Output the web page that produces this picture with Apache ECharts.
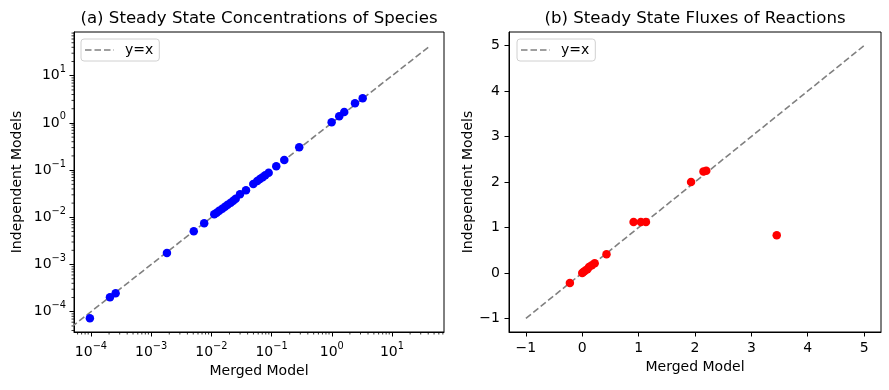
<!DOCTYPE html>
<html>
<head>
<meta charset="utf-8">
<script src="https://cdn.jsdelivr.net/npm/echarts@6/dist/echarts.min.js"></script>
<style>
  html, body { margin: 0; padding: 0; background: #fff; }
  #chart { width: 889px; height: 390px; }
</style>
</head>
<body>
<div id="chart"></div>
<script>
// (a) steady state concentrations of species
var speciesMerged = [9.6e-5, 2.07e-4, 2.57e-4, 1.83e-3, 5.1e-3, 7.6e-3,
  0.01117, 0.01225, 0.01352, 0.01517, 0.01683, 0.01866, 0.02094, 0.02312, 0.02536,
  0.0299, 0.0376, 0.0497, 0.0579, 0.0641, 0.0711, 0.0785, 0.0895,
  0.1197, 0.1626, 0.288, 0.995, 1.33, 1.61, 2.43, 3.26];
var speciesIndependent = [7.24e-5, 2.02e-4, 2.45e-4, 1.75e-3, 5.05e-3, 7.46e-3,
  0.01159, 0.0125, 0.0138, 0.0152, 0.0168, 0.0185, 0.0204, 0.0225, 0.0248,
  0.0307, 0.0373, 0.0508, 0.0587, 0.0647, 0.0703, 0.0776, 0.0881,
  0.1205, 0.1637, 0.304, 1.03, 1.38, 1.70, 2.60, 3.32];

// (b) steady state fluxes of reactions
var fluxMerged = [-0.22, 0, 0.02, 0.05, 0.09, 0.12, 0.17, 0.22, 0.43, 0.91, 1.04, 1.13, 1.93, 2.15, 2.2, 3.45];
var fluxIndependent = [-0.22, 0, 0.02, 0.05, 0.08, 0.13, 0.17, 0.21, 0.41, 1.12, 1.12, 1.12, 2.0, 2.23, 2.25, 0.83];

// y=x reference lines
var refLog = [3.6e-5, 40];
var refLin = [-1, 5];

// ticks
var linTicks = [-1, 0, 1, 2, 3, 4, 5];
var logMajor = [1e-4, 1e-3, 1e-2, 1e-1, 1, 10];
var logMinor = [];
for (var k = -5; k <= 1; k++) {
  for (var m = 2; m <= 9; m++) logMinor.push(m * Math.pow(10, k));
}

var logX = [5.23e-5, 73.1];
var logY = [3.72e-5, 84.4];
var FONT = 'DejaVu Sans';
var FS = 14;
// dashed line legend handle
var dashIcon = 'path://M0,0h6.5v1.6h-6.5zM9.5,0h6.5v1.6h-6.5zM19,0h6.5v1.6h-6.5zM28.5,0h0.5v1.6h-0.5z';

function pairs(a, b) {
  return a.map(function (v, i) { return [v, b[i]]; });
}

function logLabel(v) {
  var e = Math.round(Math.log10(v));
  return '{b|10}{s|' + String(e).replace('-', '\u2212') + '}';
}
var logRich = {
  b: { fontSize: FS, fontFamily: FONT, color: '#000', lineHeight: 22, verticalAlign: 'middle' },
  s: { fontSize: 9.8, fontFamily: FONT, color: '#000', lineHeight: 9.8, verticalAlign: 'top' }
};

function minorX(params, api) {
  var p = api.coord([api.value(0), api.value(1)]);
  var y0 = params.coordSys.y + params.coordSys.height;
  return { type: 'line', silent: true,
    shape: { x1: p[0], y1: y0, x2: p[0], y2: y0 + 2.5 },
    style: { stroke: '#000', lineWidth: 0.8 } };
}
function minorY(params, api) {
  var p = api.coord([api.value(0), api.value(1)]);
  var x0 = params.coordSys.x;
  return { type: 'line', silent: true,
    shape: { x1: x0, y1: p[1], x2: x0 - 2.5, y2: p[1] },
    style: { stroke: '#000', lineWidth: 0.8 } };
}

var axisCommon = {
  axisLine: { onZero: false, lineStyle: { color: '#000', width: 1 } },
  splitLine: { show: false },
  nameLocation: 'middle',
  nameTextStyle: { fontSize: FS, fontFamily: FONT, color: '#000' }
};
function ax(o) { return Object.assign({}, axisCommon, o); }
function ticks(vals) {
  return { length: 4.5, lineStyle: { color: '#000', width: 1 }, customValues: vals };
}
function linLabel(v) { return String(v).replace('-', '\u2212'); }

var legendCommon = {
  data: [{ name: 'y=x', icon: dashIcon }], top: 39, selectedMode: false, itemWidth: 29, itemHeight: 10,
  padding: [4, 6, 4, 4], backgroundColor: '#fff', borderColor: '#d0d0d0', borderWidth: 1, borderRadius: 3,
  textStyle: { fontSize: FS, fontFamily: FONT, color: '#000', padding: [0, 0, 0, 6] }
};

var chart = echarts.init(document.getElementById('chart'));
var option = {
  animation: false,
  graphic: [
    { type: 'text', x: 259, y: 19, style: { text: '(a) Steady State Concentrations of Species',
      fontSize: 16.6, fontFamily: FONT, fill: '#000', align: 'center', verticalAlign: 'middle' } },
    { type: 'text', x: 695, y: 19, style: { text: '(b) Steady State Fluxes of Reactions',
      fontSize: 16.6, fontFamily: FONT, fill: '#000', align: 'center', verticalAlign: 'middle' } }
  ],
  legend: [
    Object.assign({}, legendCommon, { left: 81 }),
    Object.assign({}, legendCommon, { left: 517 })
  ],
  grid: [
    { left: 74, top: 32, width: 370, height: 300, show: true, borderColor: '#000', borderWidth: 1 },
    { left: 509, top: 32, width: 372, height: 300, show: true, borderColor: '#000', borderWidth: 1 }
  ],
  xAxis: [
    ax({ gridIndex: 0, type: 'log', logBase: 10, min: logX[0], max: logX[1],
      name: 'Merged Model', nameGap: 31, axisTick: ticks(logMajor),
      axisLabel: { margin: 9, formatter: logLabel, rich: logRich, customValues: logMajor } }),
    ax({ gridIndex: 1, type: 'value', min: -1.3, max: 5.3,
      name: 'Merged Model', nameGap: 27, axisTick: ticks(linTicks),
      axisLabel: { margin: 9, fontSize: FS, fontFamily: FONT, color: '#000', customValues: linTicks,
        formatter: linLabel } })
  ],
  yAxis: [
    ax({ gridIndex: 0, type: 'log', logBase: 10, min: logY[0], max: logY[1],
      name: 'Independent Models', nameGap: 50, axisTick: ticks(logMajor),
      axisLabel: { margin: 8, formatter: logLabel, rich: logRich, customValues: logMajor } }),
    ax({ gridIndex: 1, type: 'value', min: -1.3, max: 5.3,
      name: 'Independent Models', nameGap: 20, axisTick: ticks(linTicks),
      axisLabel: { margin: 9, fontSize: FS, fontFamily: FONT, color: '#000', customValues: linTicks,
        formatter: linLabel } })
  ],
  series: [
    { type: 'scatter', xAxisIndex: 0, yAxisIndex: 0, symbolSize: 8.5, z: 4,
      itemStyle: { color: '#0000ff', opacity: 1 },
      data: pairs(speciesMerged, speciesIndependent) },
    { name: 'y=x', type: 'line', xAxisIndex: 0, yAxisIndex: 0, symbol: 'none', z: 2,
      itemStyle: { color: '#808080' },
      lineStyle: { color: '#808080', width: 1.6, type: [6.5, 3] },
      data: [[refLog[0], refLog[0]], [refLog[1], refLog[1]]] },
    { type: 'custom', xAxisIndex: 0, yAxisIndex: 0, silent: true, clip: false, renderItem: minorX,
      data: logMinor.filter(function (v) { return v > logX[0] && v < logX[1]; })
        .map(function (v) { return [v, logY[0]]; }) },
    { type: 'custom', xAxisIndex: 0, yAxisIndex: 0, silent: true, clip: false, renderItem: minorY,
      data: logMinor.filter(function (v) { return v > logY[0] && v < logY[1]; })
        .map(function (v) { return [logX[0], v]; }) },
    { type: 'scatter', xAxisIndex: 1, yAxisIndex: 1, symbolSize: 8.5, z: 4,
      itemStyle: { color: '#ff0000', opacity: 1 },
      data: pairs(fluxMerged, fluxIndependent) },
    { name: 'y=x', type: 'line', xAxisIndex: 1, yAxisIndex: 1, symbol: 'none', z: 2,
      itemStyle: { color: '#808080' },
      lineStyle: { color: '#808080', width: 1.6, type: [6.5, 3] },
      data: [[refLin[0], refLin[0]], [refLin[1], refLin[1]]] }
  ]
};
chart.setOption(option);
</script>
</body>
</html>
